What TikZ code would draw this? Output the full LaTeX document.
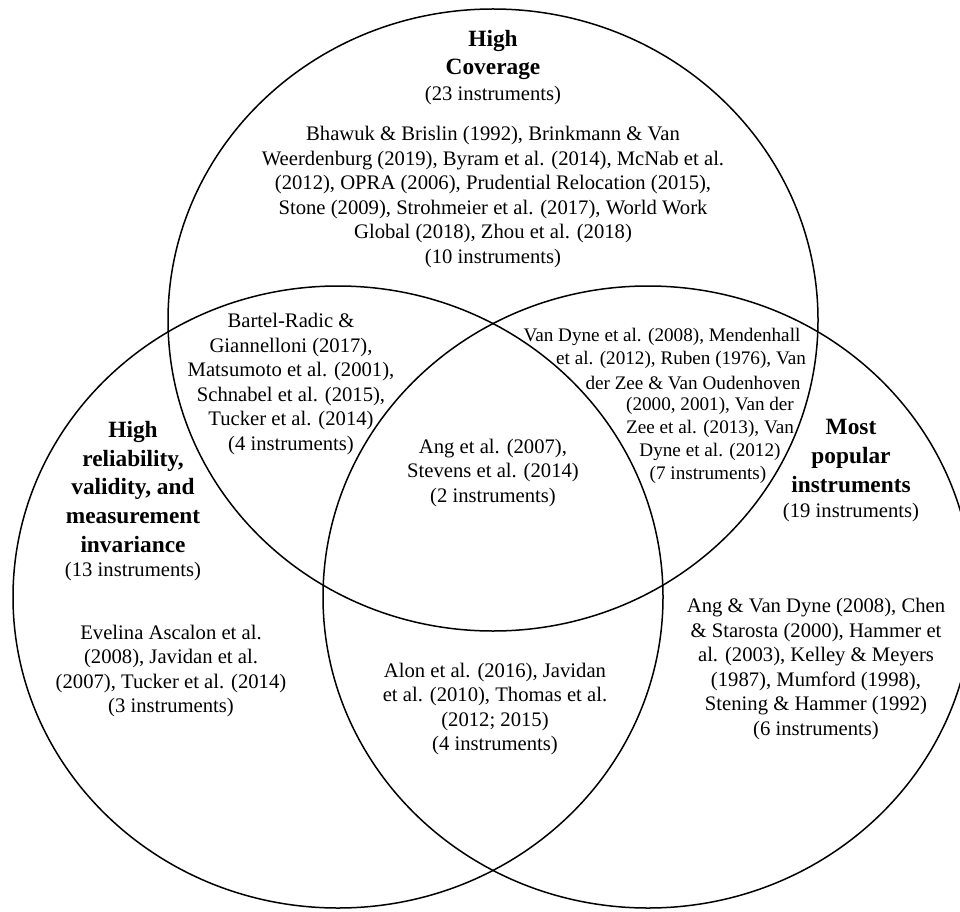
\documentclass[tikz,border=0pt]{standalone}
\usepackage{fontspec}
\setmainfont{Liberation Serif}
\begin{document}
\begin{tikzpicture}[x=0.6pt, y=-0.6pt,
  ring/.style={line width=0.9pt},
  head/.style={font=\fontsize{14}{17.2}\selectfont\bfseries, align=center, inner sep=0pt},
  body/.style={font=\fontsize{12.4}{14.7}\selectfont, align=center, inner sep=0pt},
  small/.style={font=\fontsize{11.5}{13.8}\selectfont, inner sep=0pt}]

% Frame, the right ring runs off the page
\useasboundingbox (0,0) rectangle (960,911);
\clip (0,0) rectangle (960,911);

% Three rings (top, left, right)
\foreach \cx/\cy in {493/320, 338/597, 648/597}
  \draw[ring] (\cx,\cy) ellipse [x radius=325, y radius=311];

% Top ring only
\node[head] (covhead) at (493,55) {High\\Coverage};
\node[body] (covcount) at (493,96) {(23 instruments)};
\node[body] (covlist) at (493,197) {Bhawuk \& Brislin (1992), Brinkmann \& Van\\
  Weerdenburg (2019), Byram et al. (2014), McNab et al.\\
  (2012), OPRA (2006), Prudential Relocation (2015),\\
  Stone (2009), Strohmeier et al. (2017), World Work\\
  Global (2018), Zhou et al. (2018)\\
  (10 instruments)};

% Top and left
\node[body] (covrel) at (291,384) {Bartel-Radic \&\\Giannelloni (2017),\\
  Matsumoto et al. (2001),\\Schnabel et al. (2015),\\Tucker et al. (2014)\\
  (4 instruments)};

% Top and right, one line at a time
\foreach \i/\xc/\txt in {0/662/{Van Dyne et al. (2008), Mendenhall},
    1/681/{et al. (2012), Ruben (1976), Van},
    2/693/{der Zee \& Van Oudenhoven},
    3/710/{(2000, 2001), Van der},
    4/710/{Zee et al. (2013), Van},
    5/710/{Dyne et al. (2012)},
    6/708/{(7 instruments)}}
  \node[small] (covpop\i) at (\xc,{337+23*\i}) {\txt};

% All three
\node[body] (centre) at (493,473) {Ang et al. (2007),\\Stevens et al. (2014)\\(2 instruments)};

% Left ring only
\node[head] (relhead) at (133,487) {High\\reliability,\\validity, and\\measurement\\invariance};
\node[body] (relcount) at (133,572) {(13 instruments)};
\node[body] (rellist) at (171,671) {Evelina Ascalon et al.\\(2008), Javidan et al.\\
  (2007), Tucker et al. (2014)\\(3 instruments)};

% Left and right
\node[body] (relpop) at (495,709) {Alon et al. (2016), Javidan\\et al. (2010), Thomas et al.\\
  (2012; 2015)\\(4 instruments)};

% Right ring only
\node[head] (pophead) at (851,456) {Most\\popular\\instruments};
\node[body] (popcount) at (851,513) {(19 instruments)};
\node[body] (poplist) at (816,669) {Ang \& Van Dyne (2008), Chen\\\& Starosta (2000), Hammer et\\
  al. (2003), Kelley \& Meyers\\(1987), Mumford (1998),\\Stening \& Hammer (1992)\\
  (6 instruments)};

\end{tikzpicture}
\end{document}
